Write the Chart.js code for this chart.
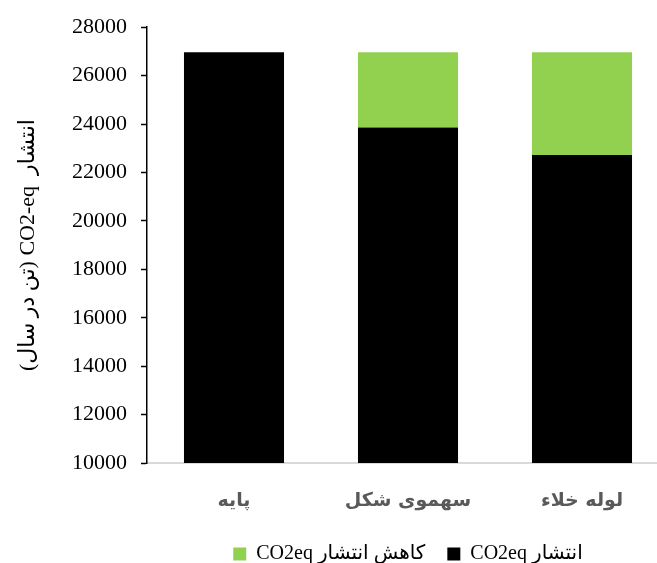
<!DOCTYPE html>
<html>
<head>
<meta charset="utf-8">
<script src="https://cdn.jsdelivr.net/npm/chart.js@4/dist/chart.umd.min.js"></script>
<style>
  html, body { margin: 0; padding: 0; background: #fff; overflow: hidden; }
  #wrap { position: absolute; left: 0; top: 0; width: 670px; height: 574px; }
</style>
</head>
<body>
<div id="wrap"><canvas id="chart"></canvas></div>
<script>
// Annual CO2-equivalent emissions per collector type
const categories = ['پایه', 'سهموی شکل', 'لوله خلاء'];
const emissions = [26970, 23860, 22720];
const reduction = [0, 3110, 4250];
const seriesNames = ['CO2eq انتشار', 'CO2eq کاهش انتشار'];
const yTitle = '(تن در سال) CO2-eq  انتشار';
const yMin = 10000, yMax = 28000, yStep = 2000;

const serif = "'Liberation Serif', 'Times New Roman', 'DejaVu Sans', serif";

new Chart(document.getElementById('chart'), {
  type: 'bar',
  data: {
    labels: categories,
    datasets: [
      { label: seriesNames[0], data: emissions, backgroundColor: '#000000', borderWidth: 0 },
      { label: seriesNames[1], data: reduction, backgroundColor: '#92D050', borderWidth: 0 }
    ]
  },
  options: {
    responsive: true,
    maintainAspectRatio: false,
    animation: false,
    layout: { padding: { top: 26, right: 1, left: 0, bottom: 0 } },
    datasets: { bar: { categoryPercentage: 1, barPercentage: 0.575 } },
    plugins: {
      tooltip: { enabled: false },
      legend: {
        position: 'bottom',
        fullSize: false,
        reverse: true,
        labels: {
          boxWidth: 13,
          boxHeight: 13,
          padding: 22,
          color: '#000',
          font: { family: serif, size: 20 }
        }
      }
    },
    scales: {
      x: {
        stacked: true,
        grid: { drawOnChartArea: false, drawTicks: false },
        border: { display: true, color: '#d9d9d9', width: 2 },
        ticks: {
          padding: 27,
          color: '#595959',
          font: { family: "'DejaVu Sans', sans-serif", size: 19, weight: 'bold' }
        },
        afterFit: (s) => { s.height = 59; }
      },
      y: {
        stacked: true,
        min: yMin,
        max: yMax,
        grid: { drawOnChartArea: false, drawTicks: true, tickLength: 6, color: '#000', tickWidth: 1.5 },
        border: { display: true, color: '#000', width: 1.5 },
        ticks: {
          stepSize: yStep,
          padding: 14,
          color: '#000',
          font: { family: serif, size: 22 },
          callback: (v) => String(v)
        },
        title: {
          display: true,
          text: yTitle,
          color: '#000',
          padding: { top: 15, bottom: 0 },
          font: { family: serif, size: 22 }
        },
        afterFit: (s) => { s.width = 147; }
      }
    }
  }
});
</script>
</body>
</html>
